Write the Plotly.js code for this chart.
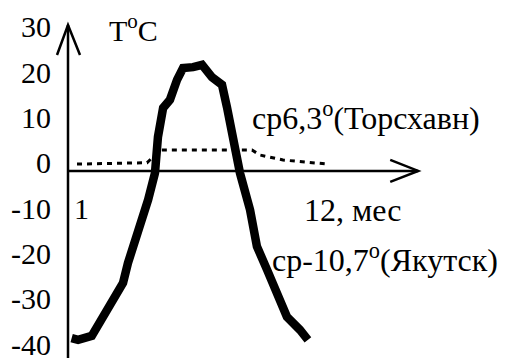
<!DOCTYPE html>
<html>
<head>
<meta charset="utf-8">
<script src="https://cdn.plot.ly/plotly-3.0.1.min.js"></script>
<style>
  html, body { margin: 0; padding: 0; background: #fff; }
  #chart { width: 507px; height: 358px; }
</style>
</head>
<body>
<div id="chart"></div>
<script>
// Yakutsk: mean monthly air temperature trace (month, °C)
const yakutskMonth = [0.97, 1.27, 1.91, 2.43, 2.76, 3.37, 3.60, 3.93, 4.16, 4.54, 4.86, 5.00, 5.24, 5.56, 5.89, 6.17, 6.64, 7.06, 7.52, 7.99, 8.22, 8.50, 8.83, 9.30, 9.62, 10.09, 10.60, 11.02, 11.63, 12.00];
const yakutskTemp  = [-36.9, -37.3, -36.4, -32.2, -28.9, -24.7, -20.3, -15.9, -11.5, -6.4, -0.5, 7.5, 13.9, 15.7, 20.1, 22.7, 22.9, 23.4, 20.7, 19.0, 14.1, 7.5, -0.5, -8.6, -16.7, -21.8, -27.8, -32.2, -35.1, -37.3];

// Tórshavn: mean monthly air temperature trace (month, °C)
const torshavnMonth = [1.22, 4.49, 5.10, 9.39, 9.76, 10.84, 12.00, 12.94];
const torshavnTemp  = [1.5, 1.8, 4.6, 4.6, 3.5, 2.4, 1.9, 1.5];

// Temperature scale ticks
const tempTicks = [-40, -30, -20, -10, 0, 10, 20, 30];
const tempTickText = ['-40', '-30', '-20', '-10', '0', '10', '20', '30'];

const serif = 'Liberation Serif';
const ink = '#000';
const labelFont = { family: serif, size: 30, color: ink };
const noteFont = { family: serif, size: 32, color: ink };

const traces = [
  {
    x: torshavnMonth, y: torshavnTemp,
    type: 'scatter', mode: 'lines',
    line: { color: ink, width: 3, dash: '5px,5px' },
    hoverinfo: 'skip', cliponaxis: false
  },
  {
    x: yakutskMonth, y: yakutskTemp,
    type: 'scatter', mode: 'lines',
    line: { color: ink, width: 8.5, shape: 'linear' },
    hoverinfo: 'skip', cliponaxis: false
  }
];

const xEnd = 17.15; // tip of the month axis arrow

const layout = {
  width: 507, height: 358,
  margin: { l: 68, r: 77, t: 25, b: 0, pad: 0 },
  paper_bgcolor: '#fff', plot_bgcolor: '#fff',
  showlegend: false,
  font: labelFont,
  xaxis: {
    range: [0.8, 17.7],
    showgrid: false, zeroline: false, showline: false,
    showticklabels: false, ticks: ''
  },
  yaxis: {
    range: [-41.3, 32.2],
    showgrid: false, zeroline: false, showline: false,
    tickvals: tempTicks, ticktext: tempTickText,
    ticks: '', ticklabelstandoff: 16, ticklabelshift: -8,
    ticklabeloverflow: 'allow',
    tickfont: labelFont
  },
  shapes: [
    // temperature axis with its arrow
    { type: 'line', xref: 'paper', yref: 'paper', x0: 0, x1: 0, y0: -0.02, y1: 1,
      line: { color: ink, width: 2.5 } },
    { type: 'path', xref: 'paper', yref: 'paper', xsizemode: 'pixel', ysizemode: 'pixel',
      xanchor: 0, yanchor: 1, path: 'M-11,-30 L0,0 L12,-30',
      line: { color: ink, width: 2.5 } },
    // month axis with its arrow
    { type: 'line', xref: 'paper', yref: 'y', x0: 0, y0: 0, y1: 0,
      x1: (xEnd - 0.8) / (17.7 - 0.8),
      line: { color: ink, width: 2.5 } },
    { type: 'path', xref: 'x', yref: 'y', xsizemode: 'pixel', ysizemode: 'pixel',
      xanchor: xEnd, yanchor: 0, path: 'M-28,11 L0,0 L-28,-11',
      line: { color: ink, width: 2.5 } }
  ],
  annotations: [
    { text: 'T<sup>o</sup>C', x: 2.62, y: 31.6, xref: 'x', yref: 'y',
      xanchor: 'left', yanchor: 'middle', showarrow: false, font: labelFont },
    { text: '1', x: 0.97, y: -8.2, xref: 'x', yref: 'y',
      xanchor: 'left', yanchor: 'middle', showarrow: false, font: labelFont },
    { text: '12, мес', x: 11.72, y: -8.6, xref: 'x', yref: 'y',
      xanchor: 'left', yanchor: 'middle', showarrow: false, font: noteFont },
    { text: 'ср6,3<sup>o</sup>(Торсхавн)', x: 9.30, y: 12.1, xref: 'x', yref: 'y',
      xanchor: 'left', yanchor: 'middle', showarrow: false, font: noteFont },
    { text: 'ср-10,7<sup>o</sup>(Якутск)', x: 10.23, y: -19.2, xref: 'x', yref: 'y',
      xanchor: 'left', yanchor: 'middle', showarrow: false, font: noteFont }
  ]
};

Plotly.newPlot('chart', traces, layout, { staticPlot: true, displayModeBar: false });
</script>
</body>
</html>
